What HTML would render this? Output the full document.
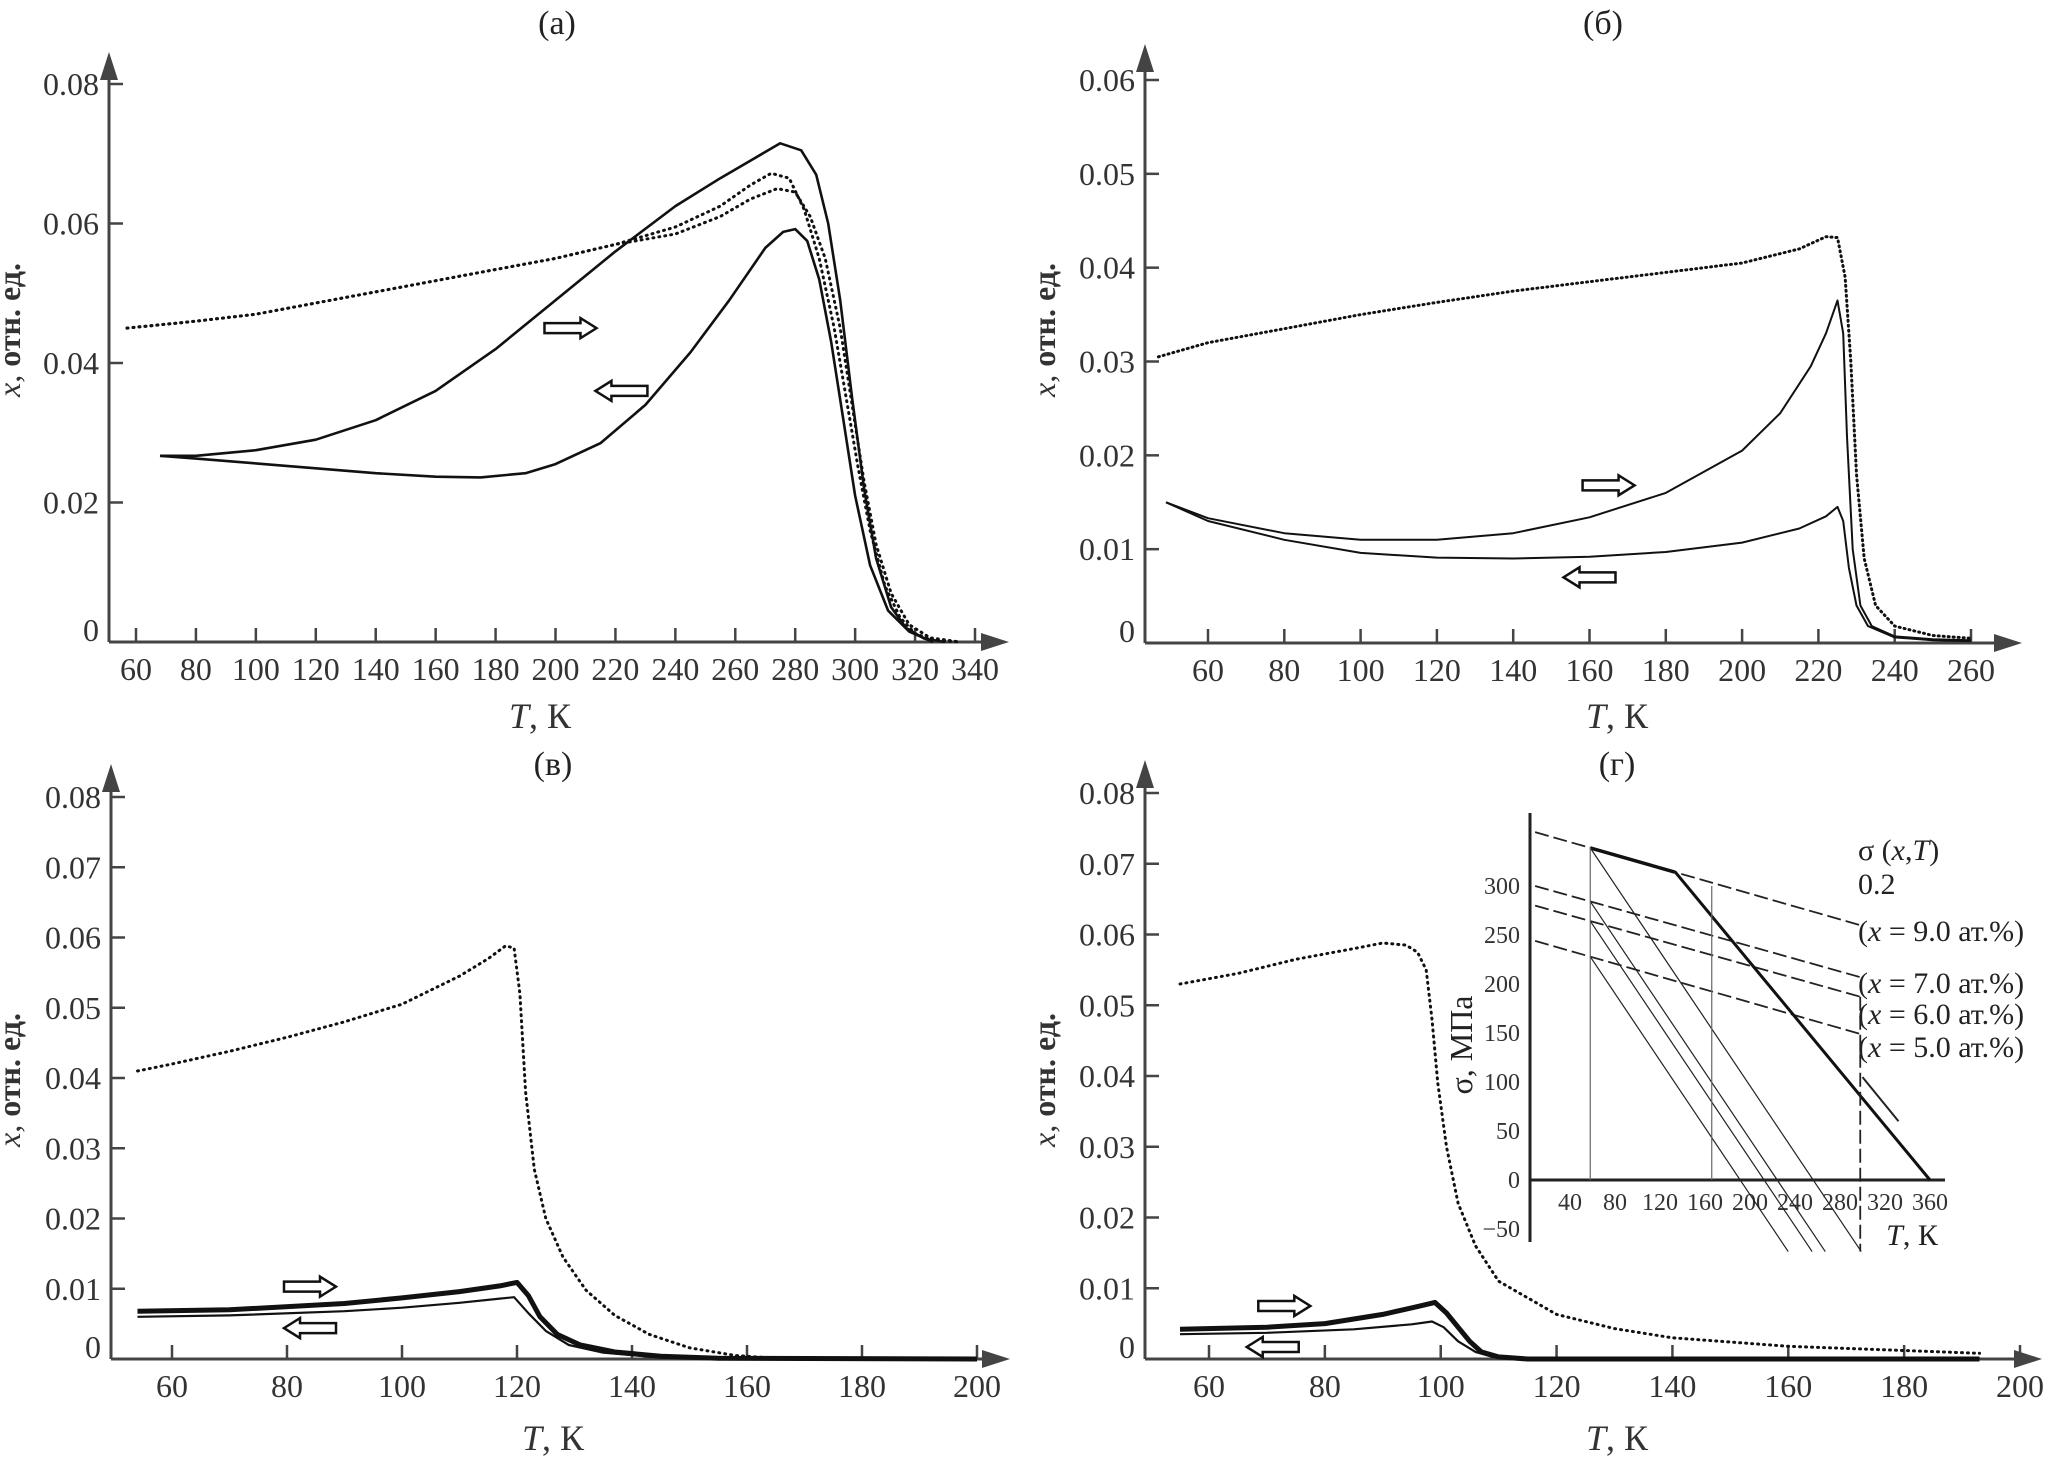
<!DOCTYPE html>
<html><head><meta charset="utf-8"><style>
html,body{margin:0;padding:0;background:#fff;}
svg{display:block;font-family:"Liberation Serif",serif;}
</style></head><body>
<svg id="fig" width="2058" height="1475" viewBox="0 0 2058 1475" xmlns="http://www.w3.org/2000/svg"></svg>
<script>
// ---- panel (a) data ----
const aDot1T=[57,80,100,125,150,175,200,220,240,255,265,272,278,283,288,293,297,301,305,310,315,320,326,335];
const aDot1X=[0.045,0.046,0.047,0.049,0.051,0.053,0.055,0.057,0.0595,0.0625,0.0655,0.0672,0.0665,0.062,0.055,0.045,0.035,0.025,0.016,0.008,0.0035,0.0012,0.0003,0.0];
const aDot2T=[57,80,100,125,150,175,200,220,240,255,265,274,280,285,290,295,299,303,307,312,318,325,335];
const aDot2X=[0.045,0.046,0.047,0.049,0.051,0.053,0.055,0.057,0.0585,0.061,0.0635,0.065,0.0645,0.061,0.055,0.045,0.034,0.023,0.014,0.007,0.0025,0.0006,0.0];
const aHeatT=[68,80,100,120,140,160,180,200,220,240,255,265,275,282,287,291,295,299,303,307,312,317,323,330];
const aHeatX=[0.0267,0.0267,0.0275,0.029,0.0318,0.036,0.042,0.049,0.056,0.0625,0.0665,0.069,0.0715,0.0705,0.067,0.06,0.049,0.035,0.022,0.012,0.005,0.002,0.0005,0.0];
const aCoolT=[68,80,100,120,140,160,175,190,200,215,230,245,258,270,276,280,284,288,292,296,300,305,311,318,326];
const aCoolX=[0.0267,0.0263,0.0256,0.0249,0.0242,0.0237,0.0236,0.0242,0.0255,0.0285,0.034,0.0415,0.049,0.0565,0.0588,0.0592,0.0575,0.052,0.043,0.032,0.021,0.011,0.0045,0.0015,0.0];
// ---- panel (б) data ----
const bDotT=[47,60,80,100,120,140,160,180,200,215,222,225,227,228.5,230,232,235,240,250,260];
const bDotX=[0.0305,0.032,0.0335,0.035,0.0363,0.0375,0.0385,0.0395,0.0405,0.042,0.0433,0.0432,0.039,0.03,0.018,0.009,0.004,0.0018,0.0008,0.0005];
const bHeatT=[49,60,80,100,120,140,160,180,200,210,218,222,225,226.5,227.5,229,231,234,240,250,260];
const bHeatX=[0.015,0.0133,0.0117,0.011,0.011,0.0117,0.0134,0.016,0.0205,0.0245,0.0295,0.033,0.0365,0.033,0.022,0.01,0.004,0.0018,0.0007,0.0004,0.0003];
const bCoolT=[49,60,80,100,120,140,160,180,200,215,222,225,226.5,228,230,233,240,250,260];
const bCoolX=[0.015,0.013,0.011,0.0096,0.0091,0.009,0.0092,0.0097,0.0107,0.0122,0.0135,0.0145,0.013,0.008,0.004,0.0018,0.0006,0.0003,0.0002];
// ---- panel (в) data ----
const cDotT=[54,60,70,80,90,100,110,115,118,119.5,120.5,121.5,123,125,128,132,137,143,150,158,165,175];
const cDotX=[0.041,0.042,0.0438,0.0458,0.048,0.0505,0.0545,0.057,0.0588,0.0585,0.052,0.038,0.027,0.02,0.0145,0.0098,0.0062,0.0035,0.0016,0.0005,0.0001,0.0];
const cHeatT=[54,70,90,100,110,117,120,122,124,127,131,137,145,155,200];
const cHeatX=[0.0068,0.007,0.0079,0.0087,0.0096,0.0104,0.0109,0.009,0.006,0.0035,0.002,0.001,0.0004,0.0001,0.0];
const cCoolT=[54,70,90,100,110,117,119.5,122,125,129,135,145,200];
const cCoolX=[0.006,0.0062,0.0068,0.0073,0.008,0.0086,0.0088,0.0065,0.004,0.002,0.0009,0.0002,0.0];
// ---- panel (г) data ----
const dDotT=[55,65,75,85,90,94,96,97.5,98.5,99.5,101,103,106,110,120,130,140,160,180,193];
const dDotX=[0.053,0.0545,0.0565,0.058,0.0588,0.0585,0.0575,0.055,0.048,0.039,0.03,0.022,0.016,0.011,0.0063,0.0043,0.003,0.0018,0.0012,0.0008];
const dHeatT=[55,70,80,90,96,99,101,103,105,107,110,115,193];
const dHeatX=[0.0042,0.0045,0.005,0.0063,0.0074,0.008,0.0065,0.0045,0.0025,0.001,0.0003,0.0,0.0];
const dCoolT=[55,70,85,95,98.5,100.5,103,106,109,115,193];
const dCoolX=[0.0035,0.0037,0.0042,0.0049,0.0053,0.0045,0.0025,0.001,0.0003,0.0,0.0];
// ---- inset data ----
const insDashStart=[355,300,280,244];
const insDashEnd=[260,207,187,149];
const insDashLabels=["(x = 9.0 ат.%)","(x = 7.0 ат.%)","(x = 6.0 ат.%)","(x = 5.0 ат.%)"];
const insTicksT=[40,80,120,160,200,240,280,320,360];
const insTicksS=[-50,0,50,100,150,200,250,300];
const insDiagStart=[133,315];
const insDiagEnd=[360,0];
const insThinSlope=1.71;
const insVert=[58,166];

const svg=document.getElementById('fig');
const NS='http://www.w3.org/2000/svg';
function mk(tag,attrs,parent){const e=document.createElementNS(NS,tag);for(const k in attrs)e.setAttribute(k,attrs[k]);(parent||svg).appendChild(e);return e;}
function lin(d0,d1,p0,p1){return v=>p0+(v-d0)*(p1-p0)/(d1-d0);}

function panel(cfg){
  const g=mk('g',{});
  
  
  const X=lin(cfg.xd[0],cfg.xd[1],cfg.xp[0],cfg.xp[1]);
  const Y=lin(cfg.yd[0],cfg.yd[1],cfg.yp[0],cfg.yp[1]);
  const ax=cfg.axisX, ay=cfg.axisY;
  const xa=mk('path',{d:`M${ax} ${ay} H${cfg.xEnd-14}`,stroke:'#444','stroke-width':3,fill:'none'},g);
  
  mk('path',{d:`M${cfg.xEnd} ${ay} l-28 -9 v18 z`,fill:'#444'},g);
  const ya=mk('path',{d:`M${ax} ${ay} V${cfg.yTop+14}`,stroke:'#444','stroke-width':3,fill:'none'},g);
  
  mk('path',{d:`M${ax} ${cfg.yTop} l-9 28 h18 z`,fill:'#444'},g);
  cfg.xticks.forEach(t=>{
    mk('line',{x1:X(t),x2:X(t),y1:ay,y2:ay-14,stroke:'#444','stroke-width':2.5},g);
    const tx=mk('text',{x:X(t),y:ay+38,'font-size':32,'text-anchor':'middle',fill:'#333'},g);
    tx.textContent=String(t);
    
  });
  cfg.yticks.forEach((t,i)=>{
    const yy=Y(t);
    if(t!==0) mk('line',{x1:ax,x2:ax+14,y1:yy,y2:yy,stroke:'#444','stroke-width':2.5},g);
    const tx=mk('text',{x:ax-10,y:(t===0?yy-1:yy+11),'font-size':32,'text-anchor':'end',fill:'#333'},g);
    tx.textContent=cfg.ylabels[i];
    
  });
  const tl=mk('text',{x:cfg.title[0],y:cfg.title[1],'font-size':34,'text-anchor':'middle',fill:'#222'},g);
  tl.textContent=cfg.title[2];
  
  const xl=mk('text',{x:cfg.xlab[0],y:cfg.xlab[1],'font-size':36,'text-anchor':'middle',fill:'#333'},g);
  xl.innerHTML='<tspan font-style="italic">T</tspan>, К';
  
  const yl=mk('text',{x:0,y:0,'font-size':32,'text-anchor':'middle',fill:'#333',transform:`translate(${cfg.ylab[0]},${cfg.ylab[1]}) rotate(-90)`},g);
  yl.innerHTML='<tspan font-style="italic">x</tspan>, <tspan font-weight="bold">отн. ед.</tspan>';
  
  cfg.series.forEach(s=>{
    const d=s.t.map((t,i)=>(i?'L':'M')+X(t).toFixed(1)+' '+Y(s.x[i]).toFixed(1)).join(' ');
    const p=mk('path',{d:d,fill:'none',stroke:'#111','stroke-width':s.w,'stroke-linejoin':'round','stroke-linecap':s.dash?'round':'butt'},g);
    if(s.dash)p.setAttribute('stroke-dasharray',s.dash);
    
    
  });
  cfg.arrows.forEach(a=>{
    const cx=X(a.t), cy=Y(a.x), L=26, dir=a.dir;
    const pts=[[-L,-5],[L-16,-5],[L-16,-10],[L,0],[L-16,10],[L-16,5],[-L,5]].map(p=>(cx+dir*p[0])+','+(cy+p[1])).join(' ');
    const ar=mk('polygon',{points:pts,fill:'#fff',stroke:'#111','stroke-width':2.5},g);
    
    
  });
  return {X,Y,g};
}

panel({name:'panel-a',xd:[60,340],xp:[136,975],yd:[0,0.08],yp:[642,84],axisX:109,axisY:642,xEnd:1009,yTop:52,
  xticks:[60,80,100,120,140,160,180,200,220,240,260,280,300,320,340],yticks:[0,0.02,0.04,0.06,0.08],ylabels:['0','0.02','0.04','0.06','0.08'],
  title:[557,34,'(а)'],xlab:[540,728],ylab:[20,330],
  series:[{t:aDot1T,x:aDot1X,w:3,dash:'1 5',name:'dotted-curve-1'},{t:aDot2T,x:aDot2X,w:3,dash:'1 5',name:'dotted-curve-2'},
          {t:aHeatT,x:aHeatX,w:2.6,name:'heating-curve'},{t:aCoolT,x:aCoolX,w:2.6,name:'cooling-curve'}],
  arrows:[{t:205,x:0.045,dir:1},{t:222,x:0.036,dir:-1}]});

panel({name:'panel-b',xd:[60,260],xp:[1208,1971],yd:[0,0.06],yp:[643,80],axisX:1145,axisY:643,xEnd:2022,yTop:44,
  xticks:[60,80,100,120,140,160,180,200,220,240,260],yticks:[0,0.01,0.02,0.03,0.04,0.05,0.06],ylabels:['0','0.01','0.02','0.03','0.04','0.05','0.06'],
  title:[1603,34,'(б)'],xlab:[1617,728],ylab:[1055,330],
  series:[{t:bDotT,x:bDotX,w:3,dash:'1 4',name:'dotted-curve'},{t:bHeatT,x:bHeatX,w:2,name:'heating-curve'},{t:bCoolT,x:bCoolX,w:2,name:'cooling-curve'}],
  arrows:[{t:165,x:0.0168,dir:1},{t:160,x:0.007,dir:-1}]});

panel({name:'panel-c',xd:[60,200],xp:[172,977],yd:[0,0.08],yp:[1359,797],axisX:111,axisY:1359,xEnd:1010,yTop:764,
  xticks:[60,80,100,120,140,160,180,200],yticks:[0,0.01,0.02,0.03,0.04,0.05,0.06,0.07,0.08],ylabels:['0','0.01','0.02','0.03','0.04','0.05','0.06','0.07','0.08'],
  title:[553,775,'(в)'],xlab:[553,1450],ylab:[20,1080],
  series:[{t:cDotT,x:cDotX,w:3,dash:'1 5',name:'dotted-curve'},{t:cHeatT,x:cHeatX,w:5,name:'heating-curve'},{t:cCoolT,x:cCoolX,w:2.2,name:'cooling-curve'}],
  arrows:[{t:84,x:0.0103,dir:1},{t:84,x:0.0044,dir:-1}]});

panel({name:'panel-d',xd:[60,200],xp:[1209,2020],yd:[0,0.08],yp:[1359,793],axisX:1145,axisY:1359,xEnd:2042,yTop:760,
  xticks:[60,80,100,120,140,160,180,200],yticks:[0,0.01,0.02,0.03,0.04,0.05,0.06,0.07,0.08],ylabels:['0','0.01','0.02','0.03','0.04','0.05','0.06','0.07','0.08'],
  title:[1617,775,'(г)'],xlab:[1617,1450],ylab:[1055,1080],
  series:[{t:dDotT,x:dDotX,w:3,dash:'1 5',name:'dotted-curve'},{t:dHeatT,x:dHeatX,w:5,name:'heating-curve'},{t:dCoolT,x:dCoolX,w:2.2,name:'cooling-curve'}],
  arrows:[{t:73,x:0.0075,dir:1},{t:71,x:0.0017,dir:-1}]});

// ---- inset ----
const ig=mk('g',{});


const IT=lin(40,360,1570,1930), IS=lin(0,300,1180,886);
const T0=9, T1=298;
mk('path',{d:`M1530 813 V1242`,stroke:'#222','stroke-width':3},ig);
mk('path',{d:`M1530 1180 H1945`,stroke:'#222','stroke-width':3},ig);
insTicksT.forEach(t=>{const tx=mk('text',{x:IT(t),y:1210,'font-size':24,'text-anchor':'middle',fill:'#333'},ig);tx.textContent=String(t);
  });
insTicksS.forEach(s=>{const tx=mk('text',{x:1520,y:IS(s)+8,'font-size':24,'text-anchor':'end',fill:'#333'},ig);tx.textContent=(s<0?'\u2212'+(-s):String(s));
  });
const iyl=mk('text',{x:0,y:0,'font-size':32,'text-anchor':'middle',fill:'#222',transform:'translate(1472,1045) rotate(-90)'},ig);
iyl.textContent='σ, МПа';

const ixl=mk('text',{x:1912,y:1245,'font-size':30,'text-anchor':'middle',fill:'#222'},ig);
ixl.innerHTML='<tspan font-style="italic">T</tspan>, К';

const sl=mk('text',{x:1858,y:860,'font-size':30,fill:'#222'},ig);
sl.innerHTML='σ (<tspan font-style="italic">x</tspan>,<tspan font-style="italic">T</tspan>)';

const s2=mk('text',{x:1858,y:894,'font-size':30,fill:'#222'},ig);s2.textContent='0.2';

const labY=[941,993,1024,1057];
const diagS=T=>insDiagStart[1]+(T-insDiagStart[0])*(insDiagEnd[1]-insDiagStart[1])/(insDiagEnd[0]-insDiagStart[0]);
insDashStart.forEach((s0,i)=>{
  const s1=insDashEnd[i];
  const lineS=T=>s0+(T-T0)*(s1-s0)/(T1-T0);
  const dl=mk('path',{d:`M${IT(T0)} ${IS(s0)} L${IT(T1)} ${IS(s1)}`,stroke:'#222','stroke-width':1.8,'stroke-dasharray':'14 5',fill:'none'},ig);
  
  let Ti=insDiagStart[0];
  for(let T=58;T<=T1;T+=0.5){Ti=T;if(lineS(T)<=diagS(T))break;}
  if(i===0)Ti=insDiagStart[0];
  const th=mk('path',{d:`M${IT(insVert[0])} ${IS(lineS(insVert[0]))} L${IT(Ti)} ${IS(lineS(Ti))}`,stroke:'#111','stroke-width':3.5,fill:'none'},ig);
  
  const sa=lineS(insVert[0]);
  const Tend=insVert[0]+(sa+73)/insThinSlope;
  const tn=mk('path',{d:`M${IT(insVert[0])} ${IS(sa)} L${IT(Tend)} ${IS(-73)}`,stroke:'#222','stroke-width':1.2,fill:'none'},ig);
  
  const lt=mk('text',{x:1858,y:labY[i],'font-size':30,fill:'#222'},ig);
  lt.innerHTML='(<tspan font-style="italic">x</tspan>'+insDashLabels[i].slice(2);
  
});
const dg=mk('path',{d:`M${IT(insDiagStart[0])} ${IS(insDiagStart[1])} L${IT(insDiagEnd[0])} ${IS(insDiagEnd[1])}`,stroke:'#111','stroke-width':3,fill:'none'},ig);

mk('path',{d:`M${IT(T1)} ${IS(insDashEnd[2])} V${IS(-73)}`,stroke:'#222','stroke-width':1.8,'stroke-dasharray':'14 5'},ig);
insVert.forEach((T,i)=>{const v=mk('path',{d:`M${IT(T)} ${IS(0)} V${IS(i?300:340)}`,stroke:'#666','stroke-width':1.2},ig);
  });
mk('path',{d:`M${IT(332)} ${IS(60)} L${IT(300)} ${IS(105)}`,stroke:'#222','stroke-width':2},ig);
</script>
</body></html>
